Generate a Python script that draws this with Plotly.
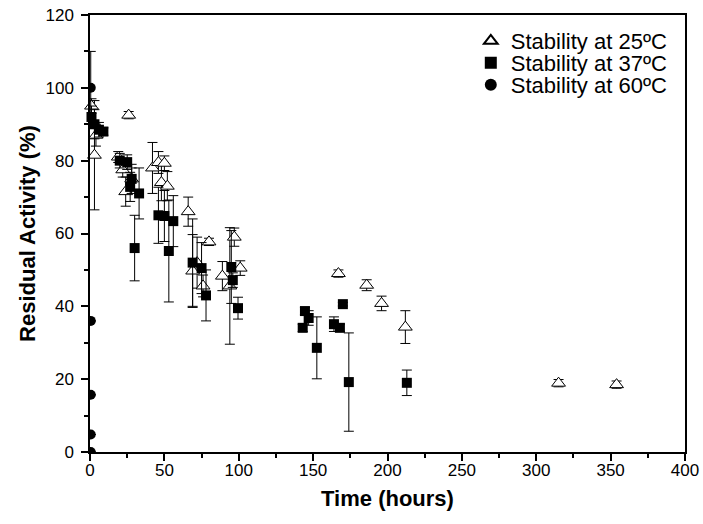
import plotly.graph_objects as go

# Stability at 25 ºC (open triangles)
t25 = [1, 4, 3, 26, 19, 22, 24, 28, 42, 46, 50, 48, 52, 66, 80, 72, 69, 76, 97, 101, 89, 94, 167, 186, 196, 212, 315, 354]
a25 = [95, 87, 81.5, 92.5, 81, 77.5, 71.5, 75, 78, 79.5, 79.3, 74, 73, 66, 57.7, 52, 49.7, 45.6, 59, 50.5, 48.3, 45.6, 49, 45.8, 40.8, 34.3, 18.9, 18.5]
e25 = [2, 3, 15, 1, 1.5, 2, 4, 3, 7, 3, 2, 5, 4, 4, 1, 7, 10, 3, 2.5, 2, 4, 16, 1, 1.5, 2, 4.5, 1, 1]

# Stability at 37 ºC (filled squares)
t37 = [1, 3, 6, 9, 20, 25, 28, 27, 33, 30, 46, 50, 56, 53, 69, 75, 78, 95, 96, 99.5, 143, 144.5, 147, 152.5, 164, 168, 170, 174, 213]
a37 = [92, 90, 88.5, 88, 80, 79.6, 75, 72.8, 71, 56, 65, 64.8, 63.4, 55.2, 52, 50.5, 43, 50.8, 47.2, 39.5, 34.1, 38.7, 36.8, 28.6, 35.1, 34.1, 40.6, 19.2, 19]
e37 = [3, 4, 2, 1, 2, 2, 4, 4, 7, 9, 7.7, 7, 7, 14, 12, 7, 7, 10, 2, 3, 1, 1, 2, 8.5, 2, 1, 0.5, 13.5, 3.5]

# Stability at 60 ºC (filled circles)
t60 = [0.5, 0.5, 0.5, 0.5, 0.5]
a60 = [100, 36, 15.7, 4.8, 0]
e60 = [10, 0, 0, 0, 0]

font = "Liberation Sans, Arial, sans-serif"

fig = go.Figure()
fig.add_trace(go.Scatter(
    x=t25, y=a25, mode="markers", name="Stability at 25ºC", legend="legend",
    marker=dict(symbol="triangle-up", size=12, color="white", line=dict(color="black", width=1)),
    error_y=dict(type="data", array=e25, visible=True, color="black", thickness=1, width=5),
    cliponaxis=False,
))
fig.add_trace(go.Scatter(
    x=t37, y=a37, mode="markers", name="Stability at 37ºC", legend="legend2",
    marker=dict(symbol="square", size=10, color="black"),
    error_y=dict(type="data", array=e37, visible=True, color="black", thickness=1, width=5),
    cliponaxis=False,
))
fig.add_trace(go.Scatter(
    x=t60, y=a60, mode="markers", name="Stability at 60ºC", legend="legend3",
    marker=dict(symbol="circle", size=10, color="black"),
    error_y=dict(type="data", array=e60, visible=True, color="black", thickness=1, width=5),
    cliponaxis=True,
))

axis_common = dict(
    showline=True, linecolor="black", linewidth=1.5, mirror=True,
    ticks="outside", ticklen=7, tickwidth=1.5, tickcolor="black",
    showgrid=False, zeroline=False, automargin=False,
    ticklabeloverflow="allow",
    tickfont=dict(family=font, size=17, color="black"),
)

fig.update_xaxes(
    range=[0, 400], dtick=50, tick0=0,
    minor=dict(dtick=25, ticks="outside", ticklen=4, tickcolor="black", tickwidth=1.5),
    ticklabelstandoff=-5,
    title=dict(text="<b>Time (hours)</b>", font=dict(family=font, size=22, color="black"), standoff=11),
    **axis_common,
)
fig.update_yaxes(
    range=[0, 120], dtick=20, tick0=0,
    minor=dict(dtick=10, ticks="outside", ticklen=4, tickcolor="black", tickwidth=1.5),
    ticklabelstandoff=4,
    title=dict(text="<b>Residual Activity (%)</b>", font=dict(family=font, size=22, color="black"), standoff=4),
    **axis_common,
)

leg_common = dict(
    x=0.64, xanchor="left", yanchor="middle",
    font=dict(family=font, size=22, color="black"),
    bgcolor="rgba(0,0,0,0)", itemsizing="constant", borderwidth=0,
)

fig.update_layout(
    width=703, height=524,
    margin=dict(l=90, r=18, t=15, b=72),
    paper_bgcolor="white", plot_bgcolor="white",
    font=dict(family=font, color="black"),
    legend=dict(y=0.9405, **leg_common),
    legend2=dict(y=0.890, **leg_common),
    legend3=dict(y=0.840, **leg_common),
    showlegend=True,
)

fig.write_html(
    "out.html",
    config={"displayModeBar": False},
    post_script="document.body.style.margin='0';document.body.style.overflow='hidden';",
)
